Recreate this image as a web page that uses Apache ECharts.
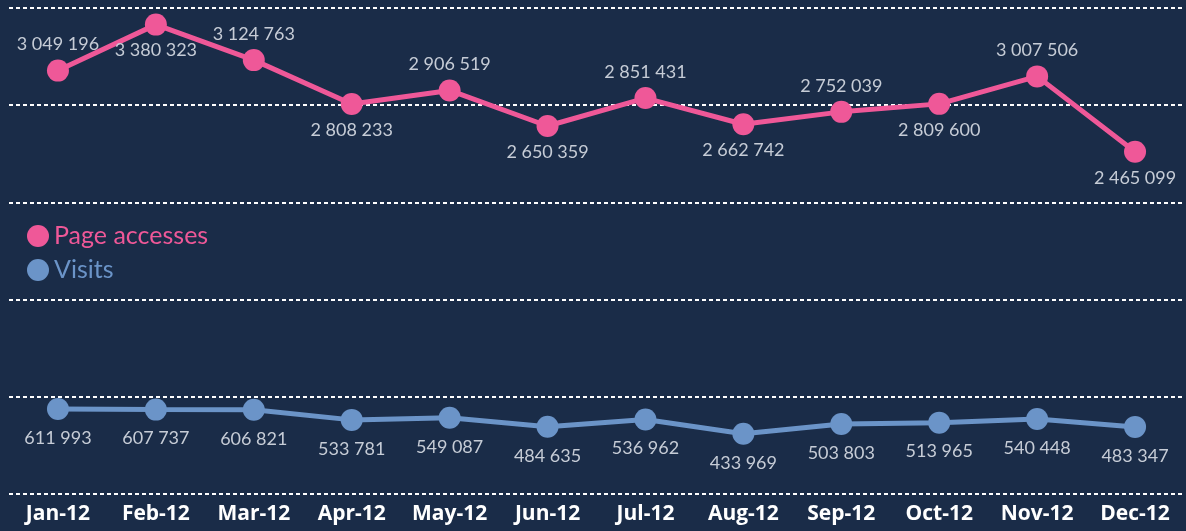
<!DOCTYPE html>
<html>
<head>
<meta charset="utf-8">
<script src="https://cdn.jsdelivr.net/npm/echarts@6/dist/echarts.min.js"></script>
<style>
  html, body { margin: 0; padding: 0; background: #1a2c48; }
  #chart { width: 1186px; height: 531px; }
</style>
</head>
<body>
<div id="chart"></div>
<script>
const months = ['Jan-12', 'Feb-12', 'Mar-12', 'Apr-12', 'May-12', 'Jun-12', 'Jul-12', 'Aug-12', 'Sep-12', 'Oct-12', 'Nov-12', 'Dec-12']
const pageAccesses = [3049196, 3380323, 3124763, 2808233, 2906519, 2650359, 2851431, 2662742, 2752039, 2809600, 3007506, 2465099]
const visits = [611993, 607737, 606821, 533781, 549087, 484635, 536962, 433969, 503803, 513965, 540448, 483347]

const pink = '#ef5898'
const blue = '#6b94c8'
const labelFont = 'Lato, "Open Sans", sans-serif'

function fmt(v) {
    return String(v).replace(/\B(?=(\d{3})+(?!\d))/g, ' ')
}

let chart = echarts.init(document.getElementById('chart'))

chart.setOption({
    backgroundColor: '#1a2c48',
    animation: false,
    grid: { left: 9, right: 2, top: 8, bottom: 37 },
    legend: {
        orient: 'vertical',
        left: 27,
        top: 223,
        padding: 0,
        itemWidth: 22,
        itemHeight: 22,
        itemGap: 8,
        icon: 'circle',
        textStyle: { fontFamily: labelFont, fontSize: 25, lineHeight: 26 },
        data: [
            { name: 'Page accesses', textStyle: { color: pink } },
            { name: 'Visits', textStyle: { color: blue } }
        ]
    },
    xAxis: {
        type: 'category',
        data: months,
        axisLine: { show: false },
        axisTick: { show: false },
        axisLabel: {
            color: '#ffffff',
            fontFamily: '"Open Sans", sans-serif',
            fontWeight: 'bold',
            fontSize: 21,
            margin: 10
        }
    },
    yAxis: {
        type: 'value',
        min: 0,
        max: 3500000,
        interval: 700000,
        axisLabel: { show: false },
        axisLine: { show: false },
        axisTick: { show: false },
        splitLine: {
            lineStyle: { color: '#ffffff', width: 2, type: [4, 3] }
        }
    },
    series: [
        {
            name: 'Page accesses',
            type: 'line',
            symbol: 'circle',
            symbolSize: 22,
            color: pink,
            lineStyle: { width: 5, color: pink },
            itemStyle: { color: pink },
            data: pageAccesses.map((v, i) => ({
                value: v,
                label: { position: i % 2 === 0 ? 'top' : 'bottom' }
            })),
            label: {
                show: true,
                distance: 6,
                color: '#c6ccd6',
                fontFamily: labelFont,
                fontSize: 18,
                formatter: (p) => fmt(p.value)
            }
        },
        {
            name: 'Visits',
            type: 'line',
            symbol: 'circle',
            symbolSize: 22,
            color: blue,
            lineStyle: { width: 5, color: blue },
            itemStyle: { color: blue },
            data: visits,
            label: {
                show: true,
                position: 'bottom',
                distance: 9,
                color: '#c6ccd6',
                fontFamily: labelFont,
                fontSize: 18,
                formatter: (p) => fmt(p.value)
            }
        }
    ]
})
</script>
</body>
</html>
